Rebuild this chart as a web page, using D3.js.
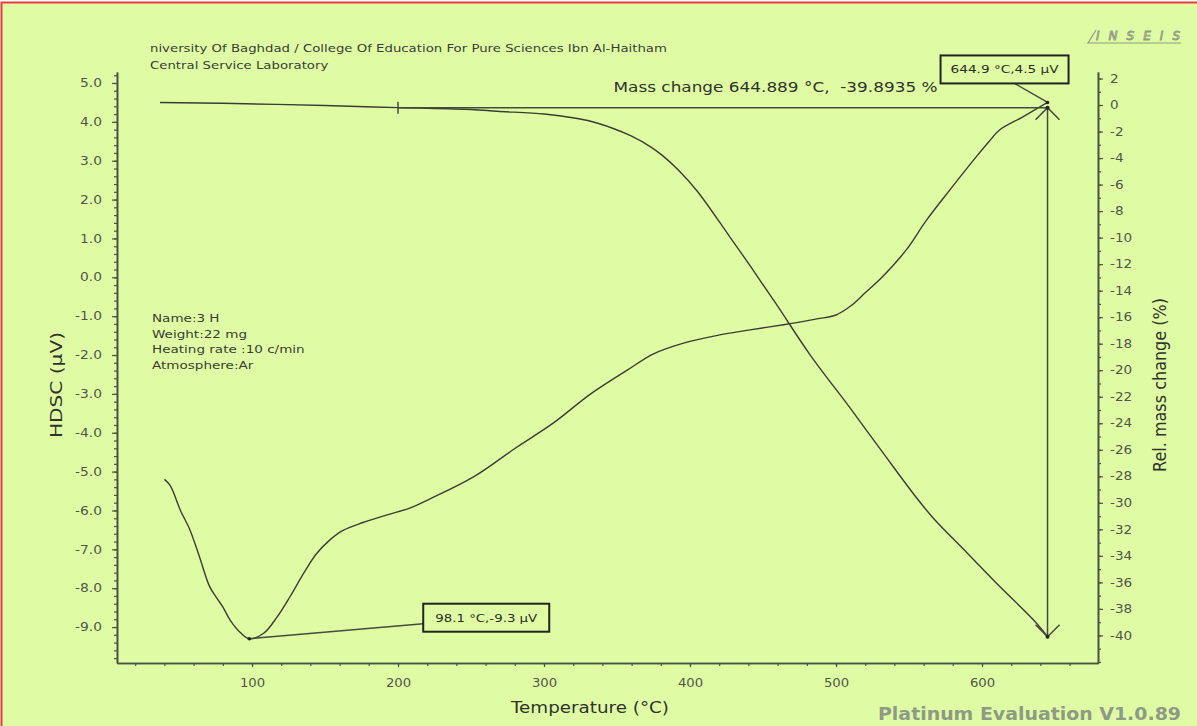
<!DOCTYPE html>
<html>
<head>
<meta charset="utf-8">
<script src="https://cdn.jsdelivr.net/npm/d3@7"></script>
<style>
  html, body { margin: 0; padding: 0; background: #ffffff; }
  svg { display: block; }
  text { font-family: "DejaVu Sans", Verdana, sans-serif; }
</style>
</head>
<body>
<svg id="chart" width="1197" height="726"></svg>
<script>
// ---- HDSC signal (left axis, µV) ----
const dscTemp = [40, 44, 51, 57.5, 64, 71, 76, 80, 85, 92, 98.1, 108, 117, 126, 135, 144, 153, 162, 176, 192,
  208, 222, 252, 281, 306, 332, 357, 375, 395, 418, 440, 464, 487, 500, 510, 520, 532, 548, 562, 578,
  596, 605, 612, 628, 644.9];
const dscValue = [-5.2, -5.36, -6.0, -6.5, -7.19, -7.96, -8.26, -8.48, -8.82, -9.14, -9.3, -9.16, -8.75, -8.22, -7.64, -7.12, -6.77, -6.52, -6.31, -6.12,
  -5.94, -5.7, -5.13, -4.38, -3.76, -3.0, -2.39, -1.97, -1.7, -1.5, -1.36, -1.22, -1.07, -0.97, -0.74, -0.4, 0.02, 0.7, 1.47, 2.25,
  3.1, 3.5, 3.79, 4.13, 4.5];

// ---- Relative mass change (right axis, %) ----
const tgTemp = [37, 80, 150, 200, 250, 268, 300, 313, 330, 347, 360, 373, 381, 392, 405, 427, 441, 459, 482,
  510, 532, 555, 567, 590, 612, 635, 644.9];
const tgValue = [0.19, 0.13, -0.04, -0.2, -0.34, -0.47, -0.68, -0.85, -1.17, -1.75, -2.35, -3.15, -3.8, -4.9, -6.5, -9.9, -12.1, -15.0, -18.8,
  -22.9, -26.2, -29.6, -31.2, -33.8, -36.3, -38.8, -40.09];

// ---- Evaluation results ----
const dscPeak = { temp: 98.1, value: -9.3, label: "98.1 °C,-9.3 µV" };
const dscEnd = { temp: 644.9, value: 4.5, label: "644.9 °C,4.5 µV" };
const massStep = { startTemp: 200, endTemp: 644.889, ref: -0.2, change: -39.8935 };

// ---- Axis ticks ----
const xTicks = [100, 200, 300, 400, 500, 600];
const xMinor = d3.range(20, 661, 20);
const leftTicks = d3.range(-9, 5.01, 1);
const leftMinor = d3.range(-9.8, 5.21, 0.2);
const rightTicks = d3.range(-40, 2.01, 2);
const rightMinor = d3.range(-42, 2.01, 1);

const infoLines = ["Name:3 H", "Weight:22 mg", "Heating rate :10 c/min", "Atmosphere:Ar"];
const headerLines = ["niversity Of Baghdad / College Of Education For Pure Sciences Ibn Al-Haitham", "Central Service Laboratory"];

const BG = "#dffca4";
const INK = "#3a3d36";
const AXIS = "#4a5244";
const LABEL = "#50544a";

const svg = d3.select("#chart");

// background + thin red frame
svg.append("rect").attr("x", 0).attr("y", 0).attr("width", 1197).attr("height", 726).attr("fill", "#ffffff");
svg.append("rect").attr("x", 1.5).attr("y", 2.5).attr("width", 1200).attr("height", 730)
  .attr("fill", BG).attr("stroke", "#ee3a3f").attr("stroke-width", 2);

// scales
const x = d3.scaleLinear().domain([7.53, 679.45]).range([117, 1098]);
const yL = d3.scaleLinear().domain([-9.925, 5.283]).range([663, 72]);
const yR = d3.scaleLinear().domain([-42.08, 2.49]).range([663, 72]);

const fmt1 = d => d.toFixed(1);
const fmt0 = d => String(d);

function styleAxis(g) {
  g.selectAll(".domain").attr("stroke", AXIS).attr("stroke-width", 1.6);
  g.selectAll(".tick line").attr("stroke", AXIS).attr("stroke-width", 1.2);
  g.selectAll(".tick text").attr("fill", LABEL).attr("font-size", 11.5)
    .attr("font-family", "DejaVu Sans, Verdana, sans-serif");
}
// widen tick labels about their own tick position
function widen(g, k) {
  g.selectAll(".tick text").each(function () {
    const t = d3.select(this);
    const xv = +t.attr("x") || 0;
    t.attr("x", xv / k).attr("transform", `scale(${k},1)`);
  });
}

// minor ticks first (unlabeled)
svg.append("g").attr("transform", "translate(117,0)")
  .call(d3.axisLeft(yL).tickValues(leftMinor).tickSize(3).tickSizeOuter(0).tickFormat(""))
  .call(styleAxis);
svg.append("g").attr("transform", "translate(1098,0)")
  .call(d3.axisRight(yR).tickValues(rightMinor).tickSize(3).tickSizeOuter(0).tickFormat(""))
  .call(styleAxis);
svg.append("g").attr("transform", "translate(0,663)")
  .call(d3.axisBottom(x).tickValues(xMinor).tickSize(3).tickSizeOuter(0).tickFormat(""))
  .call(styleAxis);

// major ticks with labels
svg.append("g").attr("transform", "translate(117,0)")
  .call(d3.axisLeft(yL).tickValues(leftTicks).tickSize(5).tickSizeOuter(0).tickPadding(10).tickFormat(fmt1))
  .call(styleAxis).call(widen, 1.2);
svg.append("g").attr("transform", "translate(1098,0)")
  .call(d3.axisRight(yR).tickValues(rightTicks).tickSize(5).tickSizeOuter(0).tickPadding(7).tickFormat(fmt0))
  .call(styleAxis).call(widen, 1.18);
svg.append("g").attr("transform", "translate(0,663)")
  .call(d3.axisBottom(x).tickValues(xTicks).tickSize(4).tickSizeOuter(0).tickPadding(12).tickFormat(fmt0))
  .call(styleAxis).call(widen, 1.15);

// axis titles
svg.append("text").attr("transform", "translate(62,385) rotate(-90)")
  .attr("text-anchor", "middle").attr("font-size", 16).attr("fill", "#2f332b")
  .attr("textLength", 106).attr("lengthAdjust", "spacingAndGlyphs")
  .text("HDSC (µV)");
svg.append("text").attr("transform", "translate(1166,385) rotate(-90)")
  .attr("text-anchor", "middle").attr("font-size", 17).attr("fill", "#2f332b")
  .attr("font-family", "Liberation Sans Narrow, Liberation Sans, Arial, sans-serif")
  .attr("textLength", 174).attr("lengthAdjust", "spacingAndGlyphs")
  .text("Rel. mass change (%)");
svg.append("text").attr("x", 590).attr("y", 713)
  .attr("text-anchor", "middle").attr("font-size", 16.5).attr("fill", "#2f332b")
  .attr("textLength", 158).attr("lengthAdjust", "spacingAndGlyphs")
  .text("Temperature (°C)");

// header and sample information (small print, slightly stretched)
svg.append("g").attr("transform", "translate(150,0) scale(1.21,1)")
  .selectAll("text").data(headerLines).join("text")
  .attr("x", 0).attr("y", (d, i) => 52 + i * 17)
  .attr("font-size", 11).attr("fill", "#3a3d36")
  .text(d => d);
svg.append("g").attr("transform", "translate(152,0) scale(1.23,1)")
  .selectAll("text").data(infoLines).join("text")
  .attr("x", 0).attr("y", (d, i) => 322 + i * 15.7)
  .attr("font-size", 11).attr("fill", "#3a3d36")
  .text(d => d);

// curves
const smooth = d3.curveCatmullRom.alpha(0.5);
const dscLine = d3.line().x(d => x(d[0])).y(d => yL(d[1])).curve(smooth);
const tgLine = d3.line().x(d => x(d[0])).y(d => yR(d[1])).curve(smooth);

svg.append("path").datum(d3.zip(dscTemp, dscValue))
  .attr("d", dscLine).attr("fill", "none").attr("stroke", INK).attr("stroke-width", 1.4);
svg.append("path").datum(d3.zip(tgTemp, tgValue))
  .attr("d", tgLine).attr("fill", "none").attr("stroke", INK).attr("stroke-width", 1.4);

// mass change evaluation: reference line, start tick and double arrow
const yRef = yR(massStep.ref);
const yEnd = yR(massStep.ref + massStep.change);
const xs = x(massStep.startTemp), xe = x(massStep.endTemp);
const ev = svg.append("g").attr("stroke", "#454a40").attr("stroke-width", 1.5).attr("fill", "none");
ev.append("line").attr("x1", xs).attr("x2", xe).attr("y1", yRef).attr("y2", yRef);
ev.append("line").attr("x1", xs).attr("x2", xs).attr("y1", yRef - 6).attr("y2", yRef + 6);
ev.append("line").attr("x1", xe).attr("x2", xe).attr("y1", yRef).attr("y2", yEnd);
ev.append("path").attr("d", `M${xe - 12},${yRef + 12}L${xe},${yRef}L${xe + 12},${yRef + 12}`);
ev.append("path").attr("d", `M${xe - 12},${yEnd - 12}L${xe},${yEnd}L${xe + 12},${yEnd - 12}`);
svg.append("circle").attr("cx", xe).attr("cy", yRef).attr("r", 2).attr("fill", "#222");
svg.append("circle").attr("cx", xe).attr("cy", yEnd).attr("r", 2).attr("fill", "#222");

svg.append("text").attr("x", xe - 110).attr("y", yRef - 16).attr("text-anchor", "end")
  .style("white-space", "pre")
  .attr("font-size", 14.5).attr("fill", "#2f332b")
  .attr("textLength", 324).attr("lengthAdjust", "spacingAndGlyphs")
  .text(`Mass change ${massStep.endTemp} °C,  ${massStep.change} %`);

// value call-outs
function callout(pt, yScale, dx, dy, w, h, tw, anchorSide) {
  const px = x(pt.temp), py = yScale(pt.value);
  const cx = px + dx, cy = py + dy;
  const g = svg.append("g");
  let lx, ly;
  if (anchorSide === "bottom") { lx = cx + 10; ly = cy + h / 2; }
  else { lx = cx - w / 2; ly = cy + 6; }
  g.append("line").attr("x1", lx).attr("y1", ly).attr("x2", px).attr("y2", py)
    .attr("stroke", "#454a40").attr("stroke-width", 1.5);
  g.append("rect").attr("x", cx - w / 2).attr("y", cy - h / 2).attr("width", w).attr("height", h)
    .attr("fill", BG).attr("stroke", "#22251f").attr("stroke-width", 2);
  g.append("text").attr("x", cx).attr("y", cy + 4).attr("text-anchor", "middle")
    .attr("font-size", 11).attr("fill", "#2a2d26")
    .attr("textLength", tw).attr("lengthAdjust", "spacingAndGlyphs")
    .text(pt.label);
  g.append("circle").attr("cx", px).attr("cy", py).attr("r", 1.8).attr("fill", "#222");
}
callout(dscEnd, yL, -43, -33, 128, 28, 108, "bottom");
callout(dscPeak, yL, 237, -21, 126, 28, 102, "left");

// footer and maker mark
svg.append("text").attr("x", 1181).attr("y", 720).attr("text-anchor", "end")
  .attr("font-family", "Liberation Sans, Arial, sans-serif").attr("font-weight", "bold")
  .attr("font-size", 18).attr("fill", "#8e9a84")
  .attr("textLength", 303).attr("lengthAdjust", "spacingAndGlyphs")
  .text("Platinum Evaluation V1.0.89");

const logo = svg.append("g");
logo.append("text").attr("x", 1096).attr("y", 40)
  .attr("font-family", "Liberation Sans, Arial, sans-serif").attr("font-style", "italic")
  .attr("font-size", 12).attr("fill", "none").attr("stroke", "#8e9a84").attr("stroke-width", 0.9)
  .attr("textLength", 84).attr("lengthAdjust", "spacing")
  .text("INSEIS");
logo.append("line").attr("x1", 1088).attr("x2", 1096).attr("y1", 43).attr("y2", 30)
  .attr("stroke", "#8e9a84").attr("stroke-width", 1.2);
logo.append("line").attr("x1", 1087).attr("x2", 1181).attr("y1", 43).attr("y2", 43)
  .attr("stroke", "#8e9a84").attr("stroke-width", 1.2);
</script>
</body>
</html>
